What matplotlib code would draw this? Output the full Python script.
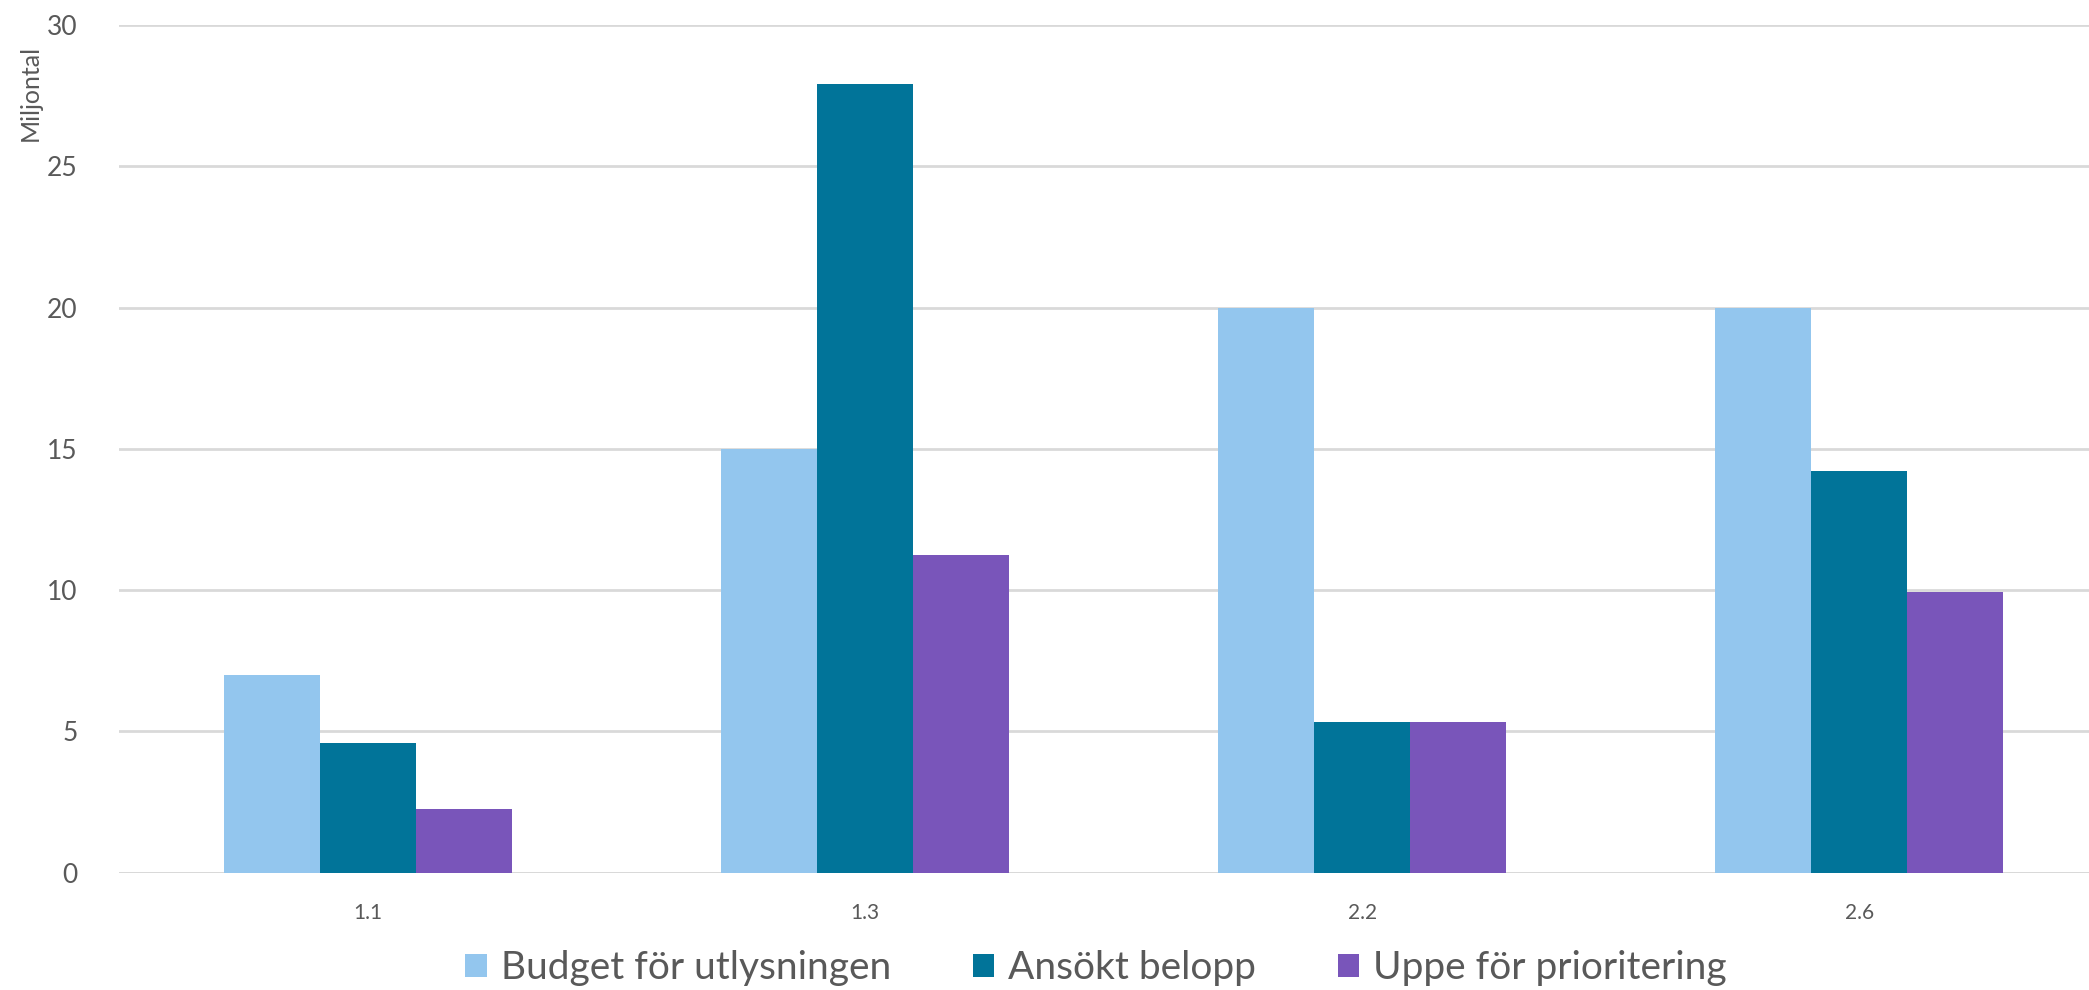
import numpy as np
import matplotlib
matplotlib.use("Agg")
import matplotlib.pyplot as plt
from matplotlib.patches import Patch

# data
categories = ["1.1", "1.3", "2.2", "2.6"]
series_names = ["Budget för utlysningen", "Ansökt belopp", "Uppe för prioritering"]
budget = [7.0, 15.0, 20.0, 20.0]
ansokt = [4.6, 27.9, 5.35, 14.2]
uppe = [2.25, 11.25, 5.35, 9.95]
y_ticks = [0, 5, 10, 15, 20, 25, 30]

colours = ["#93C6EE", "#017499", "#7955BA"]
text_col = "#595959"
grid_col = "#D9D9D9"

plt.rcParams["font.family"] = ["Lato", "DejaVu Sans"]

W, H = 2089, 990
fig = plt.figure(figsize=(W / 100, H / 100), dpi=100)
fig.patch.set_facecolor("white")

# plot area runs a bit past the right edge of the picture (cropped like the original)
left_px, right_px = 119, 2108
zero_px, top_px = 872.7, 25
ax = fig.add_axes([left_px / W, 1 - zero_px / H,
                   (right_px - left_px) / W, (zero_px - top_px) / H])

x = np.arange(len(categories))
bw = 0.193
for i, (vals, name) in enumerate(zip([budget, ansokt, uppe], series_names)):
    ax.bar(x + (i - 1) * bw, vals, width=bw, color=colours[i], label=name, zorder=3)

ax.set_xlim(-0.5, len(categories) - 0.5)
ax.set_ylim(0, 30)
ax.set_yticks(y_ticks)
ax.yaxis.grid(True, color=grid_col, lw=2, zorder=0)
ax.set_axisbelow(True)
for s in ax.spines.values():
    s.set_visible(False)
ax.axhline(0, color=grid_col, lw=2, zorder=1)

ax.tick_params(axis="y", length=0, pad=30, labelsize=19, labelcolor=text_col)
ax.tick_params(axis="x", length=0, pad=22, labelsize=15, labelcolor=text_col)
ax.set_xticks(x)
ax.set_xticklabels(categories)

fig.text(30 / W, 1 - 93 / H, "Miljontal", rotation=90, ha="center", va="center",
         fontsize=18, color=text_col)

handles = [Patch(facecolor=c, edgecolor="none") for c in colours]
fig.legend(handles, series_names, loc="center", bbox_to_anchor=(1096 / W, 1 - 968 / H),
           ncol=3, frameon=False, fontsize=28, labelcolor=text_col,
           handlelength=0.55, handleheight=0.55, handletextpad=0.36, columnspacing=2.1)

fig.savefig("out.png", dpi=100)
